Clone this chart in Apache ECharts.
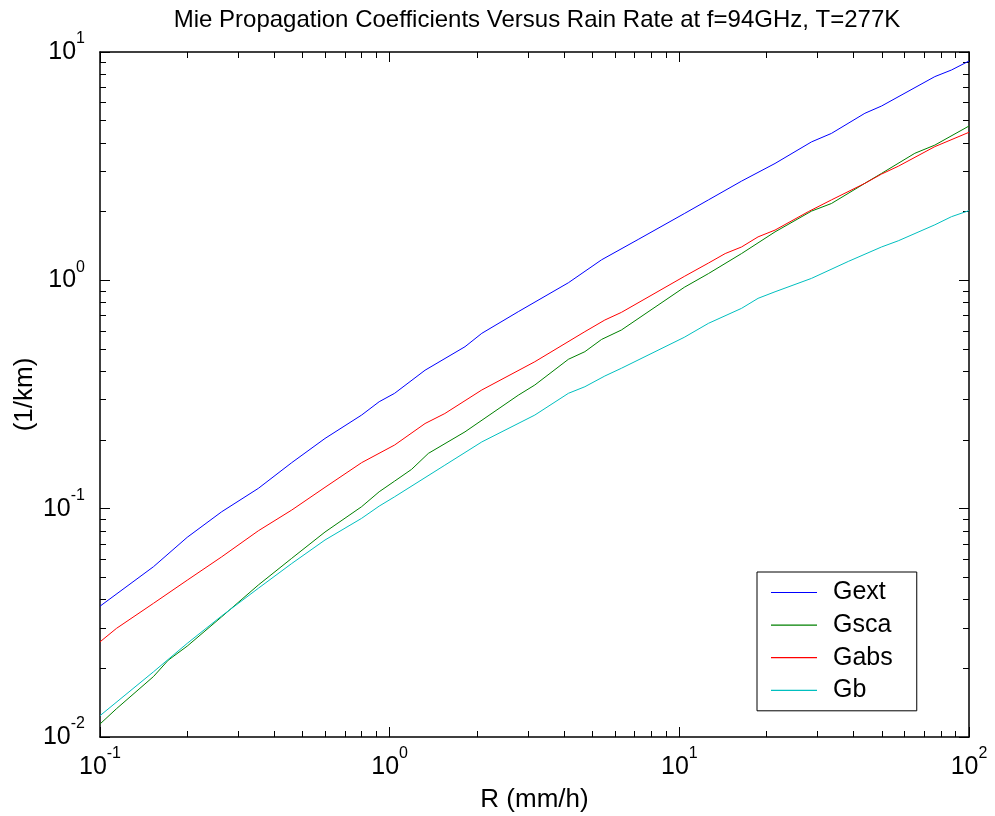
<!DOCTYPE html>
<html><head><meta charset="utf-8">
<script src="https://cdn.jsdelivr.net/npm/echarts@6/dist/echarts.min.js"></script>
<style>html,body{margin:0;padding:0;background:#fff}#c{width:995px;height:816px}</style>
</head><body><div id="c"></div>
<script>
const TITLE = 'Mie Propagation Coefficients Versus Rain Rate at f=94GHz, T=277K';
const X_NAME = 'R (mm/h)';
const Y_NAME = '(1/km)';
const SERIES_NAMES = ['Gext', 'Gsca', 'Gabs', 'Gb'];
const SERIES_COLORS = ['#0000ff', '#008000', '#ff0000', '#00bfbf'];

const R_GEXT = [0.1,0.153,0.2,0.263,0.352,0.459,0.598,0.8,0.92,1.04,1.325,1.82,2.08,2.78,4.14,5.39,7.21,10.4,12.6,16.4,21.4,28.6,33.5,43.7,49.9,76.2,87,100];
const G_GEXT = [0.0374,0.0557,0.0749,0.0969,0.1227,0.159,0.203,0.257,0.294,0.32,0.404,0.512,0.586,0.729,0.976,1.23,1.51,1.96,2.25,2.72,3.25,4.04,4.40,5.39,5.80,7.80,8.34,9.13];

const R_GSCA = [0.1,0.114,0.153,0.172,0.2,0.263,0.352,0.459,0.598,0.8,0.92,1.04,1.19,1.36,1.82,2.78,3.17,4.14,4.72,5.39,6.31,10.4,12.6,16.4,21.4,28.6,33.5,43.7,49.9,65,76.2,100];
const G_GSCA = [0.0114,0.0133,0.0184,0.0217,0.025,0.0336,0.0463,0.0606,0.079,0.102,0.1186,0.132,0.1486,0.1746,0.217,0.314,0.348,0.451,0.487,0.551,0.606,0.932,1.07,1.31,1.63,2.01,2.17,2.66,2.94,3.60,3.91,4.74];

const R_GABS = [0.1,0.114,0.153,0.2,0.263,0.352,0.459,0.598,0.8,1.04,1.325,1.55,2.08,3.17,4.72,5.53,6.31,10.4,12.6,14.4,16.4,18.7,21.4,27.9,33.5,43.7,49.9,57,76.2,100];
const G_GABS = [0.0261,0.0299,0.0385,0.0486,0.0615,0.080,0.0986,0.124,0.159,0.190,0.236,0.261,0.331,0.44,0.596,0.67,0.724,1.04,1.19,1.31,1.40,1.55,1.66,2.0,2.25,2.66,2.92,3.16,3.85,4.45];

const R_GB = [0.1,0.153,0.2,0.263,0.352,0.459,0.598,0.8,0.92,1.04,1.55,2.08,3.17,4.14,4.72,5.53,6.31,10.4,12.6,16.4,18.7,21.4,28.6,38.3,49.9,57,76.2,87,100];
const G_GB = [0.0124,0.0193,0.0257,0.0339,0.0448,0.0575,0.0729,0.0907,0.1026,0.1127,0.155,0.196,0.257,0.32,0.342,0.381,0.412,0.563,0.648,0.754,0.834,0.891,1.02,1.21,1.40,1.49,1.75,1.90,2.02];

const X_MAJOR = [0.1, 1, 10, 100];
const X_MINOR = [0.2,0.3,0.4,0.5,0.6,0.7,0.8,0.9,2,3,4,5,6,7,8,9,20,30,40,50,60,70,80,90];
const Y_MAJOR = [0.01, 0.1, 1, 10];
const Y_MINOR = [0.02,0.03,0.04,0.05,0.06,0.07,0.08,0.09,0.2,0.3,0.4,0.5,0.6,0.7,0.8,0.9,2,3,4,5,6,7,8,9];

const FONT = 'Liberation Sans, Arial, Helvetica, sans-serif';
const pairs = (xs, ys) => xs.map((x, i) => [x, ys[i]]);
const lg = v => Math.log10(v);

const richLabel = {
  b: { fontSize: 25, lineHeight: 42, verticalAlign: 'middle', fontFamily: FONT, color: '#000' },
  s: { fontSize: 16, lineHeight: 16, verticalAlign: 'top', fontFamily: FONT, color: '#000' }
};
const fmt = v => '{b|10}{s|' + Math.round(Math.log10(v)) + '}';

function decoAxis(pos, min, max, ticks, len, showLine) {
  return {
    type: 'value', position: pos, min: min, max: max,
    axisLine: { show: showLine, onZero: false, lineStyle: { color: '#000', width: 1.5 } },
    axisTick: { show: true, inside: true, length: len, customValues: ticks.map(lg), lineStyle: { color: '#000', width: 1 } },
    axisLabel: { show: false },
    splitLine: { show: false }
  };
}

const chart = echarts.init(document.getElementById('c'), null, { renderer: 'canvas' });
chart.setOption({
  animation: false,
  backgroundColor: '#fff',
  title: {
    text: TITLE, left: 532, top: 3, textAlign: 'center',
    textStyle: { fontSize: 24, fontWeight: 'normal', color: '#000', fontFamily: FONT }
  },
  grid: { left: 100, right: 26, top: 52, bottom: 79, containLabel: false, outerBoundsMode: 'none' },
  legend: {
    orient: 'vertical', left: 757, top: 572,
    padding: [8, 24, 8, 14], itemGap: 7.6, itemWidth: 46, itemHeight: 1.2,
    icon: 'rect',
    borderColor: '#000', borderWidth: 1, backgroundColor: '#fff',
    data: SERIES_NAMES,
    textStyle: { fontSize: 25, lineHeight: 25, color: '#000', fontFamily: FONT, padding: [0, 0, 0, 11] }
  },
  xAxis: [
    {
      type: 'log', logBase: 10, min: 0.1, max: 100, position: 'bottom',
      name: X_NAME, nameLocation: 'middle', nameGap: 50, nameMoveOverlap: false,
      nameTextStyle: { fontSize: 26, color: '#000', fontFamily: FONT },
      axisLine: { show: true, onZero: false, lineStyle: { color: '#000', width: 1.5 } },
      axisTick: { show: true, inside: true, length: 10, lineStyle: { color: '#000', width: 1 } },
      axisLabel: { show: true, margin: 9, formatter: fmt, rich: richLabel, color: '#000' },
      splitLine: { show: false }, minorTick: { show: false }
    },
    decoAxis('bottom', -1, 2, X_MINOR, 6, false),
    decoAxis('top', -1, 2, X_MAJOR, 10, true),
    decoAxis('top', -1, 2, X_MINOR, 6, false)
  ],
  yAxis: [
    {
      type: 'log', logBase: 10, min: 0.01, max: 10, position: 'left',
      name: Y_NAME, nameLocation: 'middle', nameGap: 62, nameMoveOverlap: false,
      nameTextStyle: { fontSize: 26, color: '#000', fontFamily: FONT },
      axisLine: { show: true, onZero: false, lineStyle: { color: '#000', width: 1.5 } },
      axisTick: { show: true, inside: true, length: 10, lineStyle: { color: '#000', width: 1 } },
      axisLabel: { show: true, margin: 15, formatter: fmt, rich: richLabel, color: '#000' },
      splitLine: { show: false }, minorTick: { show: false }
    },
    decoAxis('left', -2, 1, Y_MINOR, 6, false),
    decoAxis('right', -2, 1, Y_MAJOR, 10, true),
    decoAxis('right', -2, 1, Y_MINOR, 6, false)
  ],
  series: [
    [R_GEXT, G_GEXT], [R_GSCA, G_GSCA], [R_GABS, G_GABS], [R_GB, G_GB]
  ].map((d, i) => ({
    name: SERIES_NAMES[i], type: 'line', xAxisIndex: 0, yAxisIndex: 0,
    data: pairs(d[0], d[1]), symbol: 'none', showSymbol: false, smooth: false,
    color: SERIES_COLORS[i],
    itemStyle: { color: SERIES_COLORS[i] },
    lineStyle: { color: SERIES_COLORS[i], width: 1 },
    emphasis: { disabled: true }
  }))
});
</script></body></html>
